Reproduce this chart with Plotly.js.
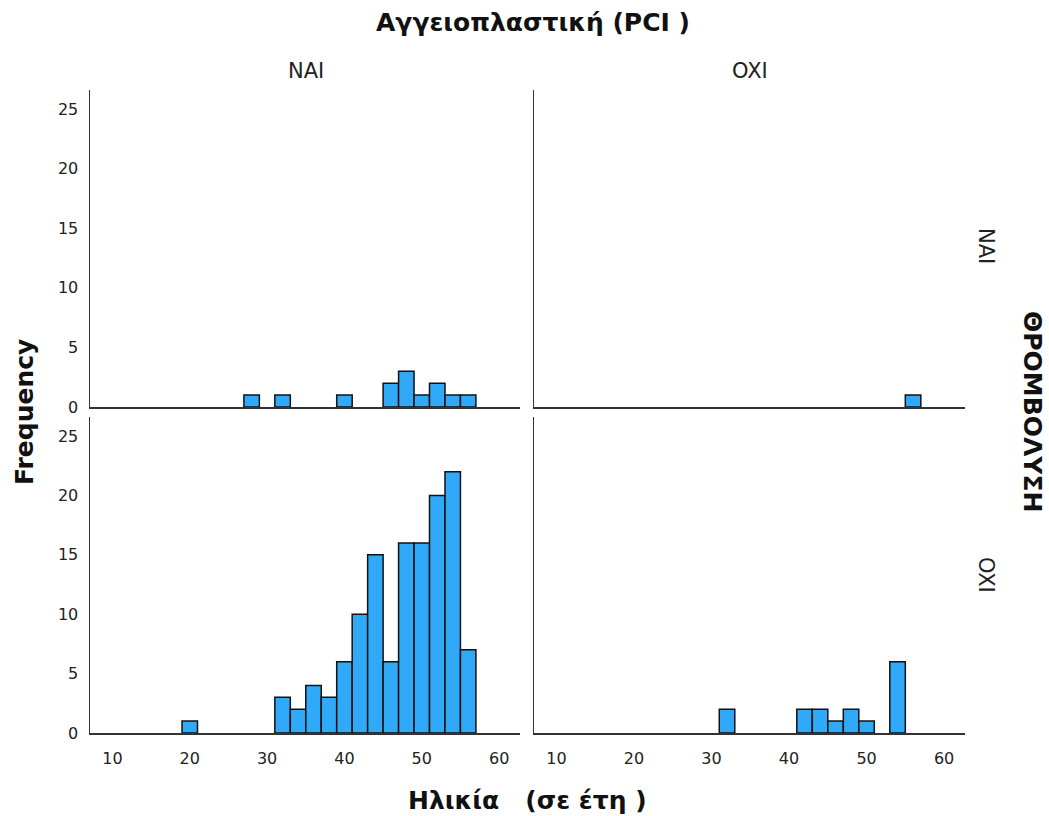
<!DOCTYPE html>
<html>
<head>
<meta charset="utf-8">
<script src="https://cdn.plot.ly/plotly-3.0.1.min.js"></script>
<style>html,body{margin:0;padding:0;background:#fff;}#chart{width:1049px;height:816px;}</style>
</head>
<body>
<div id="chart"></div>
<script>
// Age bins (lower edge of each 2-year bin)
const binStarts = [19, 21, 23, 25, 27, 29, 31, 33, 35, 37, 39, 41, 43, 45, 47, 49, 51, 53, 55];
const binWidth = 2;
// Counts: rows = ΘΡΟΜΒΟΛΥΣΗ (NAI/OXI), columns = PCI (NAI/OXI)
const countsNaiNai = [0, 0, 0, 0, 1, 0, 1, 0, 0, 0, 1, 0, 0, 2, 3, 1, 2, 1, 1];
const countsNaiOxi = [0, 0, 0, 0, 0, 0, 0, 0, 0, 0, 0, 0, 0, 0, 0, 0, 0, 0, 1];
const countsOxiNai = [1, 0, 0, 0, 0, 0, 3, 2, 4, 3, 6, 10, 15, 6, 16, 16, 20, 22, 7];
const countsOxiOxi = [0, 0, 0, 0, 0, 0, 2, 0, 0, 0, 0, 2, 2, 1, 2, 1, 0, 6, 0];
const colLabels = ["NAI", "OXI"];
const rowLabels = ["NAI", "OXI"];
const xTickVals = [10, 20, 30, 40, 50, 60];
const yTickVals = [0, 5, 10, 15, 20, 25];
const titleText = "Αγγειοπλαστική (PCI )";
const xTitle = "Ηλικία &nbsp;&nbsp;(σε έτη )";
const yTitle = "Frequency";
const rowTitle = "ΘΡΟΜΒΟΛΥΣΗ";

const centers = binStarts.map(s => s + binWidth / 2);
const barColor = "#30aaf8";
const font = "DejaVu Sans, sans-serif";
const boldFont = "DejaVu Sans, sans-serif";

function barTrace(counts, xa, ya) {
  const xs = [], ys = [];
  counts.forEach((c, i) => { if (c > 0) { xs.push(centers[i]); ys.push(c); } });
  return {
    type: "bar", x: xs, y: ys, width: binWidth, xaxis: xa, yaxis: ya,
    marker: {color: barColor, line: {color: "#111", width: 1.5}},
    hoverinfo: "x+y", showlegend: false
  };
}

const data = [
  barTrace(countsNaiNai, "x", "y"),
  barTrace(countsNaiOxi, "x2", "y2"),
  barTrace(countsOxiNai, "x3", "y3"),
  barTrace(countsOxiOxi, "x4", "y4")
];

const W = 1049, H = 816;
const xdomL = [90 / W, 520 / W], xdomR = [534 / W, 965 / W];
const ydomT = [1 - 407 / H, 1 - 90 / H], ydomB = [1 - 733 / H, 1 - 417 / H];

function xAxis(dom, anchor, showLabels) {
  return {
    domain: dom, anchor: anchor, range: [7.1, 62.7],
    tickvals: xTickVals, showticklabels: showLabels,
    ticks: "outside", ticklen: 10, tickcolor: "rgba(0,0,0,0)",
    showgrid: false, zeroline: false, showline: true, linecolor: "#333", linewidth: 1.5,
    tickfont: {family: font, size: 16, color: "#222"}, fixedrange: true
  };
}
function yAxis(dom, anchor, showLabels) {
  return {
    domain: dom, anchor: anchor, range: [0, 26.6],
    tickvals: yTickVals, showticklabels: showLabels,
    ticks: "outside", ticklen: 7, tickcolor: "rgba(0,0,0,0)",
    showgrid: false, zeroline: false, showline: true, linecolor: "#333", linewidth: 1.5,
    tickfont: {family: font, size: 16, color: "#222"}, fixedrange: true
  };
}

const layout = {
  width: W, height: H,
  margin: {l: 0, r: 0, t: 0, b: 0},
  paper_bgcolor: "#fff", plot_bgcolor: "rgba(0,0,0,0)",
  bargap: 0,
  xaxis: xAxis(xdomL, "y", false),
  yaxis: yAxis(ydomT, "x", true),
  xaxis2: xAxis(xdomR, "y2", false),
  yaxis2: yAxis(ydomT, "x2", false),
  xaxis3: xAxis(xdomL, "y3", true),
  yaxis3: yAxis(ydomB, "x3", true),
  xaxis4: xAxis(xdomR, "y4", true),
  yaxis4: yAxis(ydomB, "x4", false),
  annotations: [
    {text: "<b>" + titleText + "</b>", xref: "paper", yref: "paper", x: 533 / W, y: 1 - 22 / H,
     showarrow: false, font: {family: boldFont, size: 25, color: "#111"}, xanchor: "center", yanchor: "middle"},
    {text: colLabels[0], xref: "paper", yref: "paper", x: 305.5 / W, y: 1 - 71 / H,
     showarrow: false, font: {family: font, size: 21, color: "#222"}, xanchor: "center", yanchor: "middle"},
    {text: colLabels[1], xref: "paper", yref: "paper", x: 750 / W, y: 1 - 71 / H,
     showarrow: false, font: {family: font, size: 21, color: "#222"}, xanchor: "center", yanchor: "middle"},
    {text: rowLabels[0], xref: "paper", yref: "paper", x: 986 / W, y: 1 - 246 / H, textangle: 90,
     showarrow: false, font: {family: font, size: 21, color: "#222"}, xanchor: "center", yanchor: "middle"},
    {text: rowLabels[1], xref: "paper", yref: "paper", x: 986 / W, y: 1 - 575 / H, textangle: 90,
     showarrow: false, font: {family: font, size: 21, color: "#222"}, xanchor: "center", yanchor: "middle"},
    {text: "<b>" + rowTitle + "</b>", xref: "paper", yref: "paper", x: 1033 / W, y: 1 - 411 / H, textangle: 90,
     showarrow: false, font: {family: boldFont, size: 25, color: "#111"}, xanchor: "center", yanchor: "middle"},
    {text: "<b>" + yTitle + "</b>", xref: "paper", yref: "paper", x: 24 / W, y: 1 - 412 / H, textangle: -90,
     showarrow: false, font: {family: boldFont, size: 25, color: "#111"}, xanchor: "center", yanchor: "middle"},
    {text: "<b>" + xTitle + "</b>", xref: "paper", yref: "paper", x: 527 / W, y: 1 - 800 / H,
     showarrow: false, font: {family: boldFont, size: 25, color: "#111"}, xanchor: "center", yanchor: "middle"}
  ]
};

Plotly.newPlot("chart", data, layout, {displayModeBar: false, staticPlot: true});
</script>
</body>
</html>
